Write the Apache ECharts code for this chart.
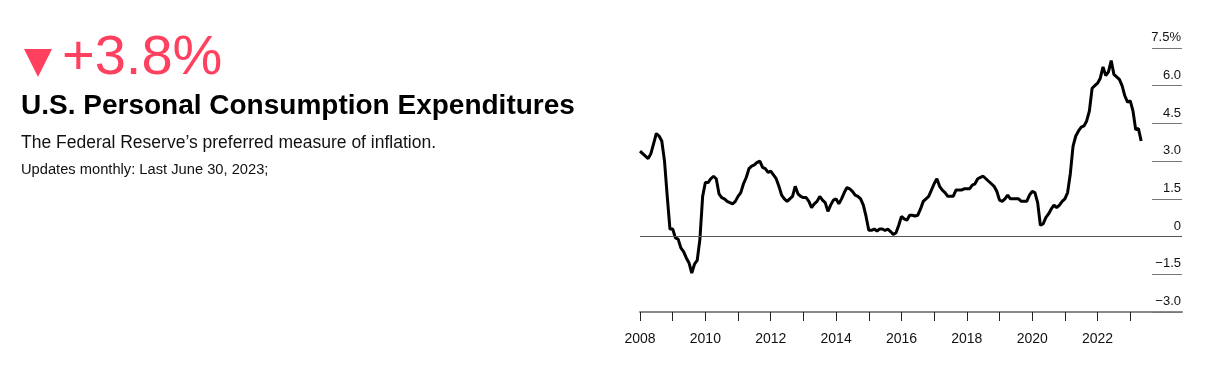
<!DOCTYPE html>
<html>
<head>
<meta charset="utf-8">
<title>U.S. Personal Consumption Expenditures</title>
<script src="https://cdn.jsdelivr.net/npm/echarts@6/dist/echarts.min.js"></script>
<style>
  html, body { margin: 0; padding: 0; background: #fff; }
  #chart { width: 1208px; height: 377px; }
</style>
</head>
<body>
<div id="chart"></div>
<script>
// PCE price index, % change from a year earlier, monthly from Jan 2008
const pce2008 = [3.4, 3.3, 3.2, 3.1, 3.3, 3.7, 4.1, 4.0, 3.8, 3.0, 1.6, 0.3];
const pce2009 = [0.3, -0.05, -0.1, -0.45, -0.6, -0.85, -1.05, -1.45, -1.1, -0.95, -0.1, 1.6];
const pce2010 = [2.15, 2.15, 2.3, 2.4, 2.3, 1.7, 1.55, 1.5, 1.4, 1.35, 1.3, 1.4];
const pce2011 = [1.6, 1.75, 2.1, 2.35, 2.7, 2.8, 2.85, 2.95, 3.0, 2.75, 2.7, 2.55];
const pce2012 = [2.6, 2.45, 2.3, 2.0, 1.65, 1.5, 1.4, 1.5, 1.6, 2.0, 1.7, 1.6];
const pce2013 = [1.55, 1.55, 1.4, 1.15, 1.3, 1.4, 1.6, 1.45, 1.35, 1.0, 1.25, 1.45];
const pce2014 = [1.5, 1.3, 1.5, 1.75, 1.95, 1.9, 1.8, 1.65, 1.6, 1.5, 1.25, 0.8];
const pce2015 = [0.25, 0.25, 0.3, 0.22, 0.3, 0.3, 0.24, 0.3, 0.2, 0.08, 0.15, 0.45];
const pce2016 = [0.8, 0.7, 0.65, 0.85, 0.85, 0.82, 0.85, 1.1, 1.4, 1.5, 1.6, 1.85];
const pce2017 = [2.1, 2.3, 2.0, 1.85, 1.75, 1.6, 1.6, 1.6, 1.85, 1.85, 1.85, 1.9];
const pce2018 = [1.9, 1.9, 2.05, 2.1, 2.3, 2.35, 2.4, 2.3, 2.2, 2.1, 2.0, 1.8];
const pce2019 = [1.45, 1.4, 1.5, 1.65, 1.5, 1.5, 1.5, 1.5, 1.4, 1.4, 1.4, 1.65];
const pce2020 = [1.8, 1.75, 1.35, 0.45, 0.5, 0.75, 0.9, 1.1, 1.25, 1.15, 1.25, 1.4];
const pce2021 = [1.5, 1.75, 2.5, 3.6, 4.0, 4.2, 4.35, 4.4, 4.6, 5.0, 5.9, 6.0];
const pce2022 = [6.1, 6.3, 6.75, 6.4, 6.55, 7.0, 6.45, 6.35, 6.25, 6.0, 5.6, 5.35];
const pce2023 = [5.4, 5.0, 4.25, 4.3, 3.8];

const firstYear = 2008;
const tickYears = [2008, 2009, 2010, 2011, 2012, 2013, 2014, 2015, 2016, 2017, 2018, 2019, 2020, 2021, 2022, 2023];
const labelYears = [2008, 2010, 2012, 2014, 2016, 2018, 2020, 2022];
const latest = '+3.8%';

const pce = [].concat(pce2008, pce2009, pce2010, pce2011, pce2012, pce2013, pce2014, pce2015,
  pce2016, pce2017, pce2018, pce2019, pce2020, pce2021, pce2022, pce2023);
// x = months since Jan 2008
const seriesData = pce.map((v, i) => [i, v]);
const toMonth = y => (y - firstYear) * 12;

const red = '#ff405f';
const font = '"Liberation Sans", Arial, sans-serif';

const chart = echarts.init(document.getElementById('chart'));
chart.setOption({
  animation: false,
  grid: { left: 640, right: 26, top: 48, bottom: 65 },
  xAxis: {
    type: 'value',
    min: 0,
    max: 199,
    axisLine: { onZero: false, lineStyle: { color: '#888', width: 2 } },
    axisTick: {
      show: true,
      customValues: tickYears.map(toMonth),
      length: 9,
      lineStyle: { color: '#222', width: 1 }
    },
    axisLabel: {
      customValues: labelYears.map(toMonth),
      formatter: v => String(firstYear + v / 12),
      margin: 20,
      fontSize: 14,
      fontFamily: font,
      color: '#111'
    },
    splitLine: { show: false }
  },
  yAxis: {
    type: 'value',
    position: 'right',
    min: -3,
    max: 7.5,
    interval: 1.5,
    axisLine: { show: false, onZero: false },
    // short gridlines at the right edge
    axisTick: { show: true, inside: true, length: 30, lineStyle: { color: '#777', width: 1 } },
    splitLine: { show: false },
    axisLabel: {
      inside: true,
      margin: 1,
      align: 'right',
      verticalAlign: 'bottom',
      padding: [0, 0, 4, 0],
      fontSize: 13,
      fontFamily: font,
      color: '#111',
      formatter: v => {
        if (v === 7.5) return '7.5%';
        if (v === 0) return '0';
        return v.toFixed(1).replace('-', '\u2212');
      }
    }
  },
  series: [{
    type: 'line',
    data: seriesData,
    showSymbol: false,
    lineStyle: { color: '#000', width: 3 },
    markLine: {
      silent: true,
      symbol: ['none', 'none'],
      label: { show: false },
      lineStyle: { color: '#555', width: 1, type: 'solid' },
      data: [{ yAxis: 0 }]
    }
  }],
  graphic: [
    { type: 'polygon', shape: { points: [[24, 49], [52, 49], [38, 77]] }, style: { fill: red } },
    { type: 'text', x: 62, y: 59, style: { text: latest, fill: red, font: 'normal 56px ' + font, textVerticalAlign: 'middle' } },
    { type: 'text', x: 21, y: 106, style: { text: 'U.S. Personal Consumption Expenditures', fill: '#000', font: 'bold 28px ' + font, textVerticalAlign: 'middle' } },
    { type: 'text', x: 21, y: 143, style: { text: 'The Federal Reserve\u2019s preferred measure of inflation.', fill: '#111', font: 'normal 17.5px ' + font, textVerticalAlign: 'middle' } },
    { type: 'text', x: 21, y: 170, style: { text: 'Updates monthly: Last June 30, 2023;', fill: '#111', font: 'normal 14.7px ' + font, textVerticalAlign: 'middle' } }
  ]
});
</script>
</body>
</html>
